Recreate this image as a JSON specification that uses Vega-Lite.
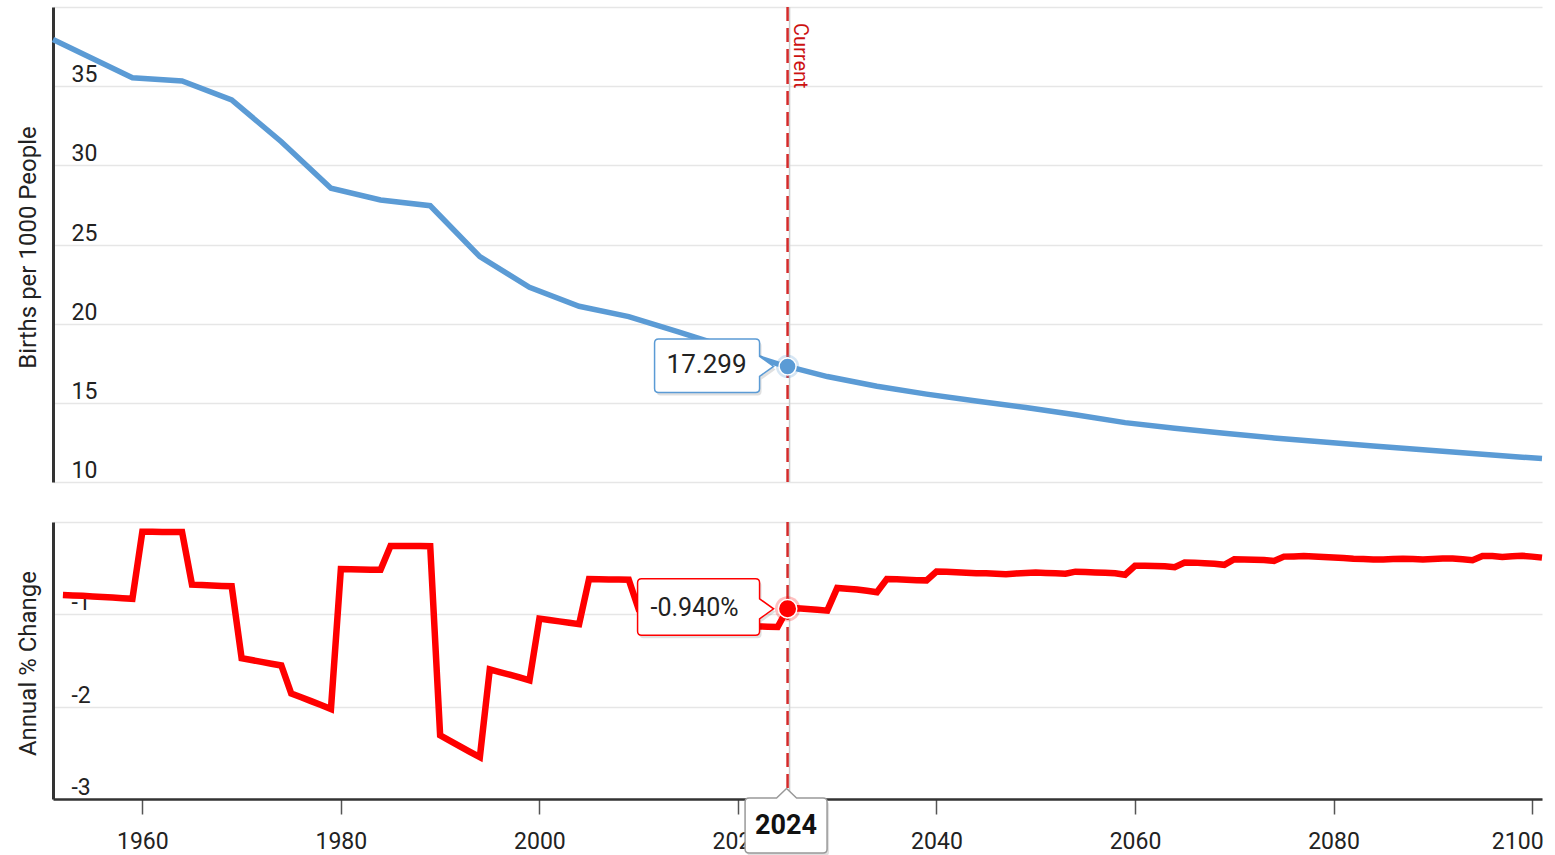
{
  "$schema": "https://vega.github.io/schema/vega-lite/v6.json",
  "width": 1489,
  "height": 792,
  "autosize": "none",
  "padding": {"left": 53, "top": 7, "right": 13, "bottom": 56},
  "background": "white",
  "config": {"font": "Roboto", "view": {"stroke": null}},
  "datasets": {
    "births": [
      {"year": 1951, "births": 37.95}, {"year": 1959, "births": 35.53}, {"year": 1964, "births": 35.33},
      {"year": 1969, "births": 34.13}, {"year": 1974, "births": 31.49}, {"year": 1979, "births": 28.55},
      {"year": 1984, "births": 27.81}, {"year": 1989, "births": 27.45}, {"year": 1994, "births": 24.23},
      {"year": 1999, "births": 22.30}, {"year": 2004, "births": 21.10}, {"year": 2009, "births": 20.45},
      {"year": 2014, "births": 19.48}, {"year": 2019, "births": 18.48}, {"year": 2024, "births": 17.46},
      {"year": 2025, "births": 17.299}, {"year": 2029, "births": 16.66}, {"year": 2034, "births": 16.05},
      {"year": 2039, "births": 15.55}, {"year": 2044, "births": 15.12}, {"year": 2049, "births": 14.70},
      {"year": 2054, "births": 14.25}, {"year": 2059, "births": 13.75}, {"year": 2064, "births": 13.40},
      {"year": 2069, "births": 13.08}, {"year": 2074, "births": 12.78}, {"year": 2079, "births": 12.52},
      {"year": 2084, "births": 12.28}, {"year": 2089, "births": 12.03}, {"year": 2094, "births": 11.80},
      {"year": 2099, "births": 11.57}, {"year": 2101, "births": 11.49}
    ],
    "change": [
      {"year": 1952, "change": -0.790}, {"year": 1953, "change": -0.795}, {"year": 1954, "change": -0.800}, {"year": 1955, "change": -0.806},
      {"year": 1956, "change": -0.812}, {"year": 1957, "change": -0.818}, {"year": 1958, "change": -0.825}, {"year": 1959, "change": -0.832},
      {"year": 1960, "change": -0.106}, {"year": 1961, "change": -0.106}, {"year": 1962, "change": -0.107}, {"year": 1963, "change": -0.107},
      {"year": 1964, "change": -0.107}, {"year": 1965, "change": -0.679}, {"year": 1966, "change": -0.683}, {"year": 1967, "change": -0.688},
      {"year": 1968, "change": -0.692}, {"year": 1969, "change": -0.696}, {"year": 1970, "change": -1.475}, {"year": 1971, "change": -1.495},
      {"year": 1972, "change": -1.515}, {"year": 1973, "change": -1.535}, {"year": 1974, "change": -1.554}, {"year": 1975, "change": -1.857},
      {"year": 1976, "change": -1.898}, {"year": 1977, "change": -1.940}, {"year": 1978, "change": -1.982}, {"year": 1979, "change": -2.025},
      {"year": 1980, "change": -0.510}, {"year": 1981, "change": -0.512}, {"year": 1982, "change": -0.514}, {"year": 1983, "change": -0.516},
      {"year": 1984, "change": -0.517}, {"year": 1985, "change": -0.260}, {"year": 1986, "change": -0.260}, {"year": 1987, "change": -0.261},
      {"year": 1988, "change": -0.261}, {"year": 1989, "change": -0.262}, {"year": 1990, "change": -2.311}, {"year": 1991, "change": -2.370},
      {"year": 1992, "change": -2.430}, {"year": 1993, "change": -2.490}, {"year": 1994, "change": -2.547}, {"year": 1995, "change": -1.597},
      {"year": 1996, "change": -1.625}, {"year": 1997, "change": -1.654}, {"year": 1998, "change": -1.684}, {"year": 1999, "change": -1.715},
      {"year": 2000, "change": -1.046}, {"year": 2001, "change": -1.061}, {"year": 2002, "change": -1.076}, {"year": 2003, "change": -1.091},
      {"year": 2004, "change": -1.107}, {"year": 2005, "change": -0.618}, {"year": 2006, "change": -0.620}, {"year": 2007, "change": -0.622},
      {"year": 2008, "change": -0.624}, {"year": 2009, "change": -0.626}, {"year": 2010, "change": -0.945}, {"year": 2011, "change": -0.955},
      {"year": 2012, "change": -0.965}, {"year": 2013, "change": -0.975}, {"year": 2014, "change": -0.985}, {"year": 2015, "change": -1.045},
      {"year": 2016, "change": -1.055}, {"year": 2017, "change": -1.065}, {"year": 2018, "change": -1.075}, {"year": 2019, "change": -1.085},
      {"year": 2020, "change": -1.125}, {"year": 2021, "change": -1.128}, {"year": 2022, "change": -1.131}, {"year": 2023, "change": -1.134},
      {"year": 2024, "change": -1.137}, {"year": 2025, "change": -0.940}, {"year": 2026, "change": -0.935}, {"year": 2027, "change": -0.942},
      {"year": 2028, "change": -0.950}, {"year": 2029, "change": -0.960}, {"year": 2030, "change": -0.714}, {"year": 2031, "change": -0.722},
      {"year": 2032, "change": -0.732}, {"year": 2033, "change": -0.745}, {"year": 2034, "change": -0.760}, {"year": 2035, "change": -0.618},
      {"year": 2036, "change": -0.620}, {"year": 2037, "change": -0.625}, {"year": 2038, "change": -0.630}, {"year": 2039, "change": -0.632},
      {"year": 2040, "change": -0.536}, {"year": 2041, "change": -0.540}, {"year": 2042, "change": -0.545}, {"year": 2043, "change": -0.550},
      {"year": 2044, "change": -0.555}, {"year": 2045, "change": -0.555}, {"year": 2046, "change": -0.561}, {"year": 2047, "change": -0.566},
      {"year": 2048, "change": -0.557}, {"year": 2049, "change": -0.552}, {"year": 2050, "change": -0.548}, {"year": 2051, "change": -0.552},
      {"year": 2052, "change": -0.556}, {"year": 2053, "change": -0.561}, {"year": 2054, "change": -0.538}, {"year": 2055, "change": -0.542},
      {"year": 2056, "change": -0.546}, {"year": 2057, "change": -0.550}, {"year": 2058, "change": -0.556}, {"year": 2059, "change": -0.571},
      {"year": 2060, "change": -0.475}, {"year": 2061, "change": -0.475}, {"year": 2062, "change": -0.476}, {"year": 2063, "change": -0.480},
      {"year": 2064, "change": -0.490}, {"year": 2065, "change": -0.439}, {"year": 2066, "change": -0.440}, {"year": 2067, "change": -0.446},
      {"year": 2068, "change": -0.452}, {"year": 2069, "change": -0.464}, {"year": 2070, "change": -0.403}, {"year": 2071, "change": -0.405},
      {"year": 2072, "change": -0.408}, {"year": 2073, "change": -0.412}, {"year": 2074, "change": -0.421}, {"year": 2075, "change": -0.375},
      {"year": 2076, "change": -0.373}, {"year": 2077, "change": -0.369}, {"year": 2078, "change": -0.374}, {"year": 2079, "change": -0.379},
      {"year": 2080, "change": -0.384}, {"year": 2081, "change": -0.390}, {"year": 2082, "change": -0.398}, {"year": 2083, "change": -0.402},
      {"year": 2084, "change": -0.405}, {"year": 2085, "change": -0.405}, {"year": 2086, "change": -0.402}, {"year": 2087, "change": -0.398},
      {"year": 2088, "change": -0.401}, {"year": 2089, "change": -0.406}, {"year": 2090, "change": -0.402}, {"year": 2091, "change": -0.396},
      {"year": 2092, "change": -0.395}, {"year": 2093, "change": -0.404}, {"year": 2094, "change": -0.413}, {"year": 2095, "change": -0.369},
      {"year": 2096, "change": -0.369}, {"year": 2097, "change": -0.380}, {"year": 2098, "change": -0.372}, {"year": 2099, "change": -0.366},
      {"year": 2100, "change": -0.375}, {"year": 2101, "change": -0.386}
    ],
    "current": [
      {"year": 2025, "label": "2024", "marker": "Current", "births": 17.299, "change": -0.94, "birthsText": "17.299", "changeText": "-0.940%"}
    ]
  },
  "encoding": {
    "x": {
      "field": "year", "type": "quantitative",
      "scale": {"domain": [1951, 2101], "nice": false, "zero": false},
      "axis": {
        "values": [1960, 1980, 2000, 2020, 2040, 2060, 2080, 2100],
        "format": "d", "title": null, "grid": false,
        "tickSize": 15, "tickColor": "#555555", "tickWidth": 1.5,
        "domainColor": "#333333", "domainWidth": 2.5,
        "labelFontSize": 23, "labelColor": "#222222", "labelPadding": 16,
        "labelBaseline": "top", "labelFlush": 15, "labelFlushOffset": 11, "labelOverlap": false
      }
    }
  },
  "layer": [
    {
      "encoding": {
        "y": {
          "field": "births", "type": "quantitative",
          "scale": {"domain": [10, 40], "range": [475, 0], "nice": false, "zero": false},
          "axis": {
            "orient": "left", "values": [10, 15, 20, 25, 30, 35, 40],
            "labelExpr": "datum.value == 40 ? '' : datum.label",
            "title": "Births per 1000 People",
            "grid": true, "gridColor": "#e6e6e6", "gridWidth": 1.5,
            "ticks": false, "tickSize": 0,
            "domain": true, "domainColor": "#333333", "domainWidth": 3,
            "labelAlign": "left", "labelBaseline": "alphabetic", "labelPadding": -18, "labelOffset": -4.5,
            "labelFontSize": 23, "labelColor": "#222222",
            "titleFontSize": 24, "titleFontWeight": "normal", "titleColor": "#222222",
            "titleX": -25, "titleY": 240, "titleAngle": -90, "titleBaseline": "middle", "titleAlign": "center"
          }
        }
      },
      "layer": [
        {
          "data": {"name": "births"},
          "mark": {"type": "line", "color": "#5b9bd5", "strokeWidth": 5.5}
        },
        {
          "data": {"name": "current"},
          "mark": {"type": "rule", "color": "#cccccc", "strokeWidth": 1.5, "xOffset": 2},
          "encoding": {"y": {"datum": 40}, "y2": {"datum": 10}}
        },
        {
          "data": {"name": "current"},
          "mark": {"type": "rule", "color": "#d42a2a", "strokeWidth": 2.5, "strokeDash": [14, 7]},
          "encoding": {"y": {"datum": 40}, "y2": {"datum": 10}}
        },
        {
          "data": {"name": "current"},
          "mark": {"type": "text", "angle": 90, "align": "left", "baseline": "alphabetic", "dx": 16, "dy": -6, "fontSize": 20, "color": "#cc1111"},
          "encoding": {"y": {"datum": 40}, "text": {"field": "marker"}}
        },
        {
          "data": {"name": "current"},
          "mark": {"type": "point", "size": 4, "filled": true, "opacity": 1, "fill": "#000000", "fillOpacity": 0.12, "strokeWidth": 0,
            "shape": "M -127 -24.5 L -30 -24.5 Q -26 -24.5 -26 -20.5 L -26 -7 L -12 3 L -26 13 L -26 25 Q -26 29 -30 29 L -127 29 Q -131 29 -131 25 L -131 -20.5 Q -131 -24.5 -127 -24.5 Z"}
        },
        {
          "data": {"name": "current"},
          "mark": {"type": "point", "size": 4, "filled": true, "opacity": 1, "fill": "#ffffff", "fillOpacity": 1, "stroke": "#5b9bd5", "strokeWidth": 1.5,
            "shape": "M -129 -27.5 L -32 -27.5 Q -28 -27.5 -28 -23.5 L -28 -10 L -14 0 L -28 10 L -28 22 Q -28 26 -32 26 L -129 26 Q -133 26 -133 22 L -133 -23.5 Q -133 -27.5 -129 -27.5 Z"}
        },
        {
          "data": {"name": "current"},
          "mark": {"type": "point", "shape": "circle", "size": 540, "filled": true, "opacity": 0.25, "color": "#5b9bd5"}
        },
        {
          "data": {"name": "current"},
          "mark": {"type": "point", "shape": "circle", "size": 290, "filled": true, "opacity": 1, "fill": "#5b9bd5", "stroke": "#ffffff", "strokeWidth": 1.5}
        },
        {
          "data": {"name": "current"},
          "mark": {"type": "text", "dx": -81, "dy": -1, "align": "center", "baseline": "middle", "fontSize": 26, "color": "#222222"},
          "encoding": {"text": {"field": "birthsText"}}
        }
      ]
    },
    {
      "encoding": {
        "y": {
          "field": "change", "type": "quantitative",
          "scale": {"domain": [-3, 0], "range": [792, 515], "nice": false, "zero": false},
          "axis": {
            "orient": "left", "values": [-3, -2, -1, 0],
            "labelExpr": "datum.value == 0 ? '' : '' + datum.value",
            "title": "Annual % Change",
            "grid": true, "gridColor": "#e6e6e6", "gridWidth": 1.5,
            "ticks": false, "tickSize": 0,
            "domain": true, "domainColor": "#333333", "domainWidth": 3,
            "labelAlign": "left", "labelBaseline": "alphabetic", "labelPadding": -18, "labelOffset": -4.5,
            "labelFontSize": 23, "labelColor": "#222222",
            "titleFontSize": 24, "titleFontWeight": "normal", "titleColor": "#222222",
            "titleX": -25, "titleY": 656, "titleAngle": -90, "titleBaseline": "middle", "titleAlign": "center"
          }
        }
      },
      "layer": [
        {
          "data": {"name": "change"},
          "mark": {"type": "line", "color": "#ff0000", "strokeWidth": 6.5}
        },
        {
          "data": {"name": "current"},
          "mark": {"type": "rule", "color": "#cccccc", "strokeWidth": 1.5, "xOffset": 2},
          "encoding": {"y": {"datum": 0}, "y2": {"datum": -3}}
        },
        {
          "data": {"name": "current"},
          "mark": {"type": "rule", "color": "#d42a2a", "strokeWidth": 2.5, "strokeDash": [14, 7]},
          "encoding": {"y": {"datum": 0}, "y2": {"datum": -3}}
        },
        {
          "data": {"name": "current"},
          "mark": {"type": "point", "size": 4, "filled": true, "opacity": 1, "fill": "#000000", "fillOpacity": 0.12, "strokeWidth": 0,
            "shape": "M -144 -27 L -30 -27 Q -26 -27 -26 -23 L -26 -7 L -12 3 L -26 13 L -26 25.5 Q -26 29.5 -30 29.5 L -144 29.5 Q -148 29.5 -148 25.5 L -148 -23 Q -148 -27 -144 -27 Z"}
        },
        {
          "data": {"name": "current"},
          "mark": {"type": "point", "size": 4, "filled": true, "opacity": 1, "fill": "#ffffff", "fillOpacity": 1, "stroke": "#ff0000", "strokeWidth": 1.5,
            "shape": "M -146 -30 L -32 -30 Q -28 -30 -28 -26 L -28 -10 L -14 0 L -28 10 L -28 22.5 Q -28 26.5 -32 26.5 L -146 26.5 Q -150 26.5 -150 22.5 L -150 -26 Q -150 -30 -146 -30 Z"}
        },
        {
          "data": {"name": "current"},
          "mark": {"type": "point", "shape": "circle", "size": 640, "filled": true, "opacity": 0.25, "color": "#ff0000"}
        },
        {
          "data": {"name": "current"},
          "mark": {"type": "point", "shape": "circle", "size": 340, "filled": true, "opacity": 1, "fill": "#ff0000", "stroke": "#ffffff", "strokeWidth": 1.5}
        },
        {
          "data": {"name": "current"},
          "mark": {"type": "text", "dx": -93, "dy": -1, "align": "center", "baseline": "middle", "fontSize": 25, "color": "#222222"},
          "encoding": {"text": {"field": "changeText"}}
        },
        {
          "data": {"name": "current"},
          "mark": {"type": "point", "size": 4, "filled": true, "opacity": 1, "fill": "#000000", "fillOpacity": 0.12, "strokeWidth": 0,
            "shape": "M -36.5 2 L 37.5 2 Q 41.5 2 41.5 6 L 41.5 53 Q 41.5 57 37.5 57 L -36.5 57 Q -40.5 57 -40.5 53 L -40.5 6 Q -40.5 2 -36.5 2 Z"},
          "encoding": {"y": {"datum": -3}}
        },
        {
          "data": {"name": "current"},
          "mark": {"type": "point", "size": 4, "filled": true, "opacity": 1, "fill": "#ffffff", "fillOpacity": 1, "stroke": "#999999", "strokeWidth": 1.5,
            "shape": "M -38.5 -1 L -11 -1 L -1 -10.5 L 9 -1 L 35.5 -1 Q 39.5 -1 39.5 3 L 39.5 50 Q 39.5 54 35.5 54 L -38.5 54 Q -42.5 54 -42.5 50 L -42.5 3 Q -42.5 -1 -38.5 -1 Z"},
          "encoding": {"y": {"datum": -3}}
        },
        {
          "data": {"name": "current"},
          "mark": {"type": "text", "dx": -1.5, "dy": 26.5, "align": "center", "baseline": "middle", "fontSize": 27, "fontWeight": "bold", "color": "#111111"},
          "encoding": {"y": {"datum": -3}, "text": {"field": "label"}}
        }
      ]
    }
  ],
  "resolve": {"scale": {"y": "independent"}, "axis": {"y": "independent"}}
}
